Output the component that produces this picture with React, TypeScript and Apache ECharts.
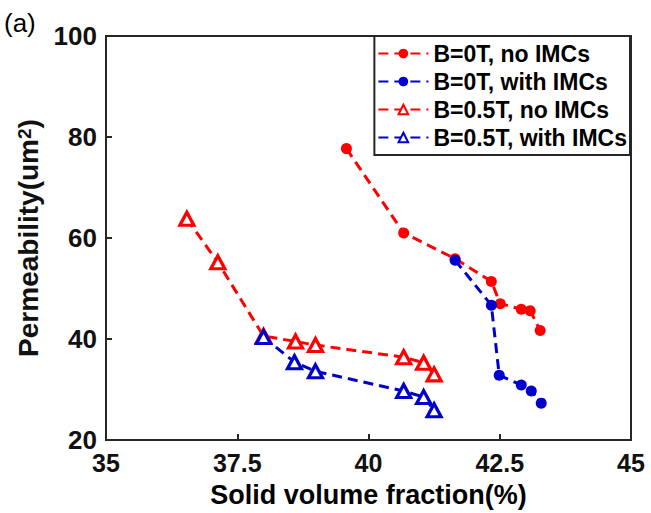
import React, { useEffect, useRef } from "react";
import * as echarts from "echarts";

const seriesNames = ["B=0T, no IMCs", "B=0T, with IMCs", "B=0.5T, no IMCs", "B=0.5T, with IMCs"];

const x0TNo = [39.58, 40.67, 41.65, 42.34, 42.51, 42.91, 43.08, 43.27];
const y0TNo = [77.7, 61.0, 55.9, 51.4, 47.0, 45.9, 45.6, 41.7];

const x0TWith = [41.65, 42.34, 42.49, 42.91, 43.1, 43.29];
const y0TWith = [55.6, 46.7, 32.8, 30.9, 29.7, 27.3];

const x05TNo = [36.54, 37.13, 38.0, 38.61, 38.99, 40.67, 41.05, 41.25];
const y05TNo = [63.8, 55.2, 40.6, 39.5, 38.8, 36.4, 35.3, 33.0];

const x05TWith = [38.0, 38.59, 38.99, 40.67, 41.05, 41.25];
const y05TWith = [40.4, 35.4, 33.6, 29.7, 28.5, 25.9];

const xTicks = [35, 37.5, 40, 42.5, 45];
const yTicks = [20, 40, 60, 80, 100];

const RED = "#ff0000";
const BLUE = "#0000cc";
const DARK = "#262626";
const FONT = "'Liberation Sans', Arial, sans-serif";

function pairs(xs: number[], ys: number[]) {
  return xs.map((x, i) => [x, ys[i]]);
}

export default function App() {
  const ref = useRef<HTMLDivElement>(null);
  useEffect(() => {
    if (!ref.current) return;
    const chart = echarts.init(ref.current, undefined, { renderer: "svg" });
    const mk = (name: string, xs: number[], ys: number[], color: string, tri: boolean) => ({
      name,
      type: "line",
      data: pairs(xs, ys),
      symbol: tri ? "triangle" : "circle",
      symbolSize: tri ? [14, 13] : 11,
      lineStyle: { color, width: 3, type: [10, 6] },
      itemStyle: tri
        ? { color: "#ffffff", borderColor: color, borderWidth: 3.2 }
        : { color, borderColor: color, borderWidth: 0 },
      emphasis: { disabled: true },
      z: 3,
    });
    chart.setOption({
      animation: false,
      textStyle: { fontFamily: FONT },
      grid: {
        left: 106,
        right: 20,
        top: 36,
        bottom: 72,
        show: true,
        borderColor: DARK,
        borderWidth: 2,
        backgroundColor: "#ffffff",
      },
      xAxis: {
        type: "value",
        min: xTicks[0],
        max: xTicks[xTicks.length - 1],
        interval: 2.5,
        name: "Solid volume fraction(%)",
        nameLocation: "middle",
        nameGap: 41,
        nameTextStyle: { fontSize: 27, fontWeight: "bold", color: "#000", fontFamily: FONT },
        axisLine: { show: true, lineStyle: { color: DARK, width: 2 } },
        axisTick: { show: true, inside: true, length: 6, lineStyle: { color: DARK, width: 2 } },
        axisLabel: { fontSize: 25, fontWeight: "bold", color: "#111", margin: 10, fontFamily: FONT },
        splitLine: { show: false },
      },
      yAxis: {
        type: "value",
        min: yTicks[0],
        max: yTicks[yTicks.length - 1],
        interval: 20,
        name: "Permeability(um{sup|2})",
        nameLocation: "middle",
        nameGap: 59,
        nameTextStyle: {
          fontSize: 28,
          fontWeight: "bold",
          color: "#111",
          fontFamily: FONT,
          rich: {
            sup: { fontSize: 19, fontWeight: "bold", color: "#111", verticalAlign: "top", fontFamily: FONT },
          },
        },
        axisLine: { show: true, lineStyle: { color: DARK, width: 2 } },
        axisTick: { show: true, inside: true, length: 6, lineStyle: { color: DARK, width: 2 } },
        axisLabel: { fontSize: 26, fontWeight: "bold", color: "#111", margin: 9, fontFamily: FONT },
        splitLine: { show: false },
      },
      legend: {
        orient: "vertical",
        right: 21,
        top: 36,
        padding: [6, 3, 6, 3],
        itemGap: 5,
        itemWidth: 50,
        itemHeight: 12,
        borderColor: DARK,
        borderWidth: 2,
        backgroundColor: "#ffffff",
        textStyle: { fontSize: 23, fontWeight: "bold", color: "#000", fontFamily: FONT },
        data: seriesNames,
      },
      graphic: [
        {
          type: "text",
          left: 4,
          top: 10,
          style: { text: "(a)", fontSize: 26, fill: "#000", fontFamily: FONT },
        },
      ],
      series: [
        mk(seriesNames[0], x0TNo, y0TNo, RED, false),
        mk(seriesNames[1], x0TWith, y0TWith, BLUE, false),
        mk(seriesNames[2], x05TNo, y05TNo, RED, true),
        mk(seriesNames[3], x05TWith, y05TWith, BLUE, true),
      ],
    });
    return () => chart.dispose();
  }, []);
  return (
    <div
      ref={ref}
      style={{ position: "fixed", left: 0, top: 0, width: 651, height: 513, background: "#fff" }}
    />
  );
}
